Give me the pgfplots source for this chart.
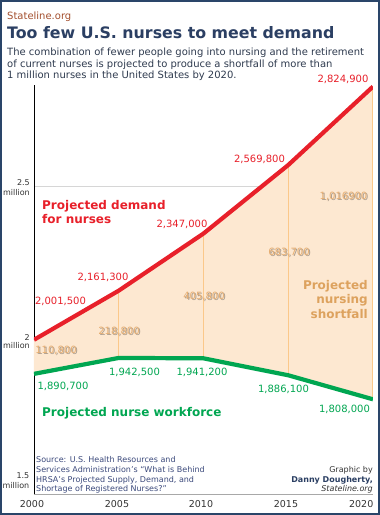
\documentclass[border=0pt]{standalone}
\usepackage{fontspec}
\setmainfont{DejaVu Sans}
\usepackage{pgfplots}
\pgfplotsset{compat=1.18}
\definecolor{frameblue}{HTML}{2A4569}
\definecolor{titlenavy}{HTML}{2B3F63}
\definecolor{brownorg}{HTML}{A4502F}
\definecolor{subtxt}{HTML}{2F3B4F}
\definecolor{demred}{HTML}{E8202A}
\definecolor{wfgreen}{HTML}{00A651}
\definecolor{peach}{HTML}{FDE8D1}
\definecolor{vline}{HTML}{FBC88A}
\definecolor{tan}{HTML}{E6AE72}
\definecolor{tandark}{HTML}{DDA25E}
\definecolor{srcblue}{HTML}{3C4A7C}
\definecolor{gridgray}{HTML}{D6D6D6}
\definecolor{axgray}{HTML}{A8A8A8}
\definecolor{lblgray}{HTML}{333333}
\newcommand{\fs}[2]{\fontsize{#1}{#2}\selectfont}
\begin{document}
\begin{tikzpicture}[x=1pt,y=1pt]
\useasboundingbox (0,0) rectangle (380,-515);
\fill[white] (0,0) rectangle (380,-515);
\begin{axis}[
  at={(34pt,-494pt)}, anchor=south west,
  scale only axis, width=339pt, height=409pt,
  xmin=2000, xmax=2020, ymin=1.5, ymax=2.83,
  axis x line=bottom, axis y line=left,
  axis line style={-},
  x axis line style={draw=axgray, line width=1pt},
  y axis line style={draw=black, line width=0.9pt},
  xtick={2000,2005,2010,2015,2020}, xticklabels={},
  ytick={2.5}, yticklabels={},
  major tick length=0pt,
  ymajorgrids, grid style={draw=gridgray, line width=1pt},
]
\addplot[fill=peach, draw=none] coordinates {
  (2000,2.0015) (2005,2.1613) (2010,2.3470) (2015,2.5698) (2020,2.8249)
  (2020,1.8080) (2015,1.8861) (2010,1.9412) (2005,1.9425) (2000,1.8907)} -- cycle;
\addplot[vline, line width=1.3pt] coordinates {(2005,1.9425) (2005,2.1613)};
\addplot[vline, line width=1.3pt] coordinates {(2010,1.9412) (2010,2.3470)};
\addplot[vline, line width=1.3pt] coordinates {(2015,1.8861) (2015,2.5698)};
\addplot[vline, line width=1.3pt] coordinates {(2020,1.8080) (2020,2.8249)};
\addplot[demred, line width=4.2pt] coordinates {
  (2000,2.0015) (2005,2.1613) (2010,2.3470) (2015,2.5698) (2020,2.8249)};
\addplot[wfgreen, line width=4.2pt] coordinates {
  (2000,1.8907) (2005,1.9425) (2010,1.9412) (2015,1.8861) (2020,1.8080)};
\end{axis}
% frame
\draw[frameblue, line width=2.2pt] (1.1,-1.1) rectangle (378.9,-513.9);
% titles
\node[anchor=base west, inner sep=0, text=brownorg, font=\fs{10}{12}] at (7,-19.5) {Stateline.org};
\node[anchor=base west, inner sep=0, text=titlenavy, font=\fs{15.8}{18}\bfseries] at (7,-38) {Too few U.S. nurses to meet demand};
\node[anchor=base west, inner sep=0, text=subtxt, font=\fs{10}{12}] at (7,-55.5) {The combination of fewer people going into nursing and the retirement};
\node[anchor=base west, inner sep=0, text=subtxt, font=\fs{10}{12}] at (7,-67) {of current nurses is projected to produce a shortfall of more than};
\node[anchor=base west, inner sep=0, text=subtxt, font=\fs{10}{12}] at (7,-78.5) {1 million nurses in the United States by 2020.};
% y labels
\begin{scope}[every node/.style={anchor=base east, inner sep=0, text=lblgray, font=\fs{8}{9}}]
\node at (30,-185) {2.5}; \node at (30,-195) {million};
\node at (30,-340) {2}; \node at (30,-348.5) {million};
\node at (29.5,-478) {1.5}; \node at (29.5,-488) {million};
\end{scope}
% x labels
\begin{scope}[every node/.style={anchor=base, inner sep=0, text=lblgray, font=\fs{9.5}{10}}]
\node at (32,-507.5) {2000};
\node at (117,-507.5) {2005};
\node at (201,-507.5) {2010};
\node at (286,-507.5) {2015};
\node[anchor=base east] at (373.5,-507.5) {2020};
\end{scope}
% demand labels
\begin{scope}[every node/.style={anchor=base, inner sep=0, text=demred, font=\fs{10}{12}}]
\node at (60.5,-304) {2,001,500};
\node at (103,-280) {2,161,300};
\node at (182,-227) {2,347,000};
\node at (259.5,-162) {2,569,800};
\node at (343,-82) {2,824,900};
\end{scope}
% workforce labels
\begin{scope}[every node/.style={anchor=base, inner sep=0, text=wfgreen, font=\fs{10}{12}}]
\node at (63,-389.5) {1,890,700};
\node at (134.5,-375.5) {1,942,500};
\node at (202,-375.5) {1,941,200};
\node at (283.5,-392.5) {1,886,100};
\node at (344.5,-412) {1,808,000};
\end{scope}
% shortfall labels with a soft shadow
\newcommand{\sh}[3]{%
  \node[anchor=base, inner sep=0, text=black, opacity=0.32, font=\fs{10}{12}] at (#1+1.2,-#2-1.2) {#3};
  \node[anchor=base, inner sep=0, text=tan, font=\fs{10}{12}] at (#1,-#2) {#3};}
\sh{56}{353}{110,800}
\sh{119}{334}{218,800}
\sh{204}{299}{405,800}
\sh{289}{255}{683,700}
\sh{343.5}{199}{1,016900}
% annotations
\begin{scope}[every node/.style={inner sep=0, font=\fs{12}{14}\bfseries}]
\node[anchor=base west, text=demred] at (42,-209) {Projected demand};
\node[anchor=base west, text=demred] at (42,-223) {for nurses};
\node[anchor=base east, text=tandark] at (368,-289) {Projected};
\node[anchor=base east, text=tandark] at (368,-303) {nursing};
\node[anchor=base east, text=tandark] at (368,-318) {shortfall};
\node[anchor=base west, text=wfgreen] at (42,-416) {Projected nurse workforce};
\end{scope}
% source
\begin{scope}[every node/.style={anchor=base west, inner sep=0, text=srcblue, font=\fs{8}{10}}]
\node at (36,-462) {Source: U.S. Health Resources and};
\node at (36,-472) {Services Administration’s “What is Behind};
\node at (36,-482) {HRSA’s Projected Supply, Demand, and};
\node at (36,-491) {Shortage of Registered Nurses?”};
\end{scope}
\begin{scope}[every node/.style={anchor=base east, inner sep=0, font=\fs{8}{10}}]
\node[text=lblgray] at (373,-472) {Graphic by};
\node[text=titlenavy, font=\fs{8}{10}\bfseries] at (373,-482) {Danny Dougherty,};
\node[text=lblgray, font=\fs{8}{10}\itshape] at (373,-491) {Stateline.org};
\end{scope}
\end{tikzpicture}
\end{document}
